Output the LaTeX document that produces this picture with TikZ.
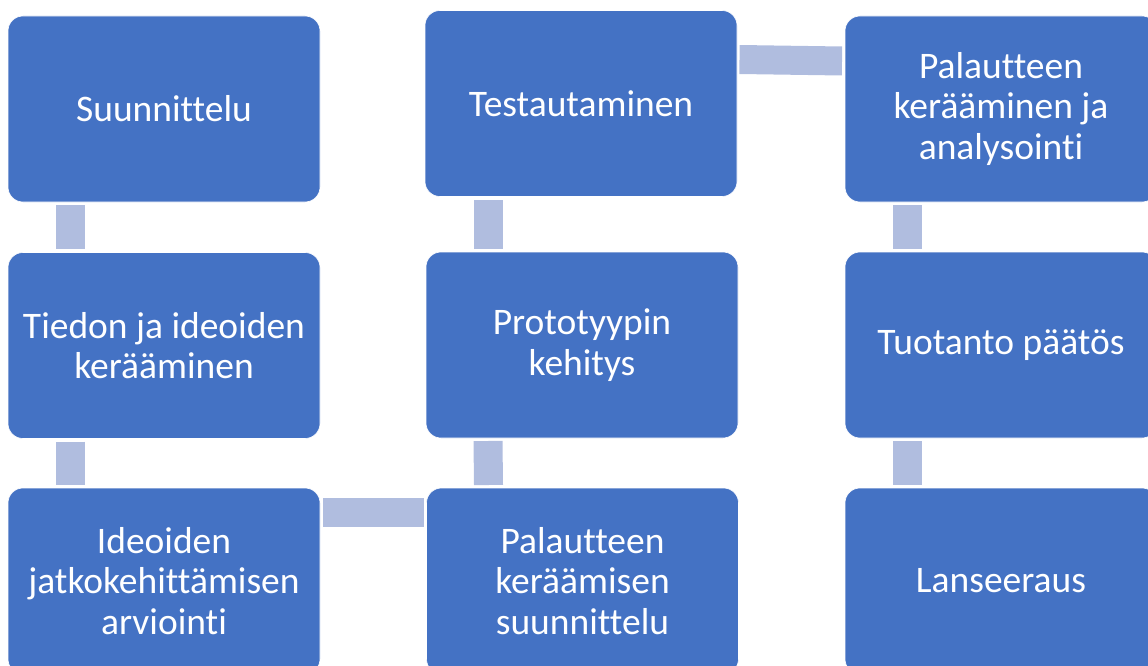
\documentclass[tikz,border=0pt]{standalone}
\usepackage{fontspec}
\setmainfont{Carlito}[Ligatures=NoCommon]
\definecolor{boxblue}{HTML}{4472C4}
\definecolor{linkblue}{HTML}{B0BDDF}
\tikzset{
  stepbox/.style={rectangle, rounded corners=15pt, fill=boxblue, draw=white, line width=0.6pt,
    minimum width=312pt, minimum height=186pt, inner sep=0pt, outer sep=0pt,
    text=white, align=center, font=\fontsize{37.5}{40.5}\selectfont},
  link/.style={draw=linkblue, line width=29pt, line cap=butt}
}
\begin{document}
\begin{tikzpicture}[x=1pt,y=-1pt]
\useasboundingbox (0,0) rectangle (1148,666);
\clip (0,0) rectangle (1148,666);
\node[stepbox] (b1) at (164,109) {Suunnittelu};
\node[stepbox] (b2) at (164,345.5) {Tiedon ja ideoiden\\kerääminen};
\node[stepbox] (b3) at (164,581) {Ideoiden\\jatkokehittämisen\\arviointi};
\node[stepbox] (b4) at (581,103.5) {Testautaminen};
\node[stepbox] (b5) at (582,345) {Prototyypin\\kehitys};
\node[stepbox] (b6) at (582.5,581) {Palautteen\\keräämisen\\suunnittelu};
\node[stepbox] (b7) at (1001,109) {Palautteen\\kerääminen ja\\analysointi};
\node[stepbox] (b8) at (1001,345) {Tuotanto päätös};
\node[stepbox] (b9) at (1001,581) {Lanseeraus};
\draw[link] ([xshift=62.5pt,yshift=-3pt]b1.south west) -- ([xshift=62.5pt,yshift=4pt]b2.north west);
\draw[link] ([xshift=62.5pt,yshift=-3pt]b2.south west) -- ([xshift=62.5pt,yshift=3pt]b3.north west);
\draw[link] ([xshift=3pt,yshift=-24.5pt]b3.north east) -- ([xshift=-3pt,yshift=-24.5pt]b6.north west);
\draw[link] ([xshift=62pt,yshift=3pt]b6.north west) -- ([xshift=62pt,yshift=-3pt]b5.south west);
\draw[link] ([xshift=62.5pt,yshift=3pt]b5.north west) -- ([xshift=63.5pt,yshift=-3pt]b4.south west);
\draw[link] ([xshift=2.5pt,yshift=-49pt]b4.north east) -- ([xshift=-3pt,yshift=-45pt]b7.north west);
\draw[link] ([xshift=62.5pt,yshift=-3pt]b7.south west) -- ([xshift=62.5pt,yshift=3pt]b8.north west);
\draw[link] ([xshift=62.5pt,yshift=-3pt]b8.south west) -- ([xshift=62.5pt,yshift=3pt]b9.north west);
\end{tikzpicture}
\end{document}
